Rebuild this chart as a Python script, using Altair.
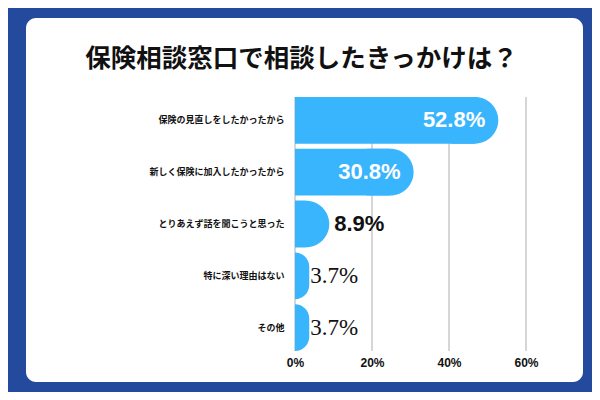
import altair as alt
import pandas as pd

title_text = "保険相談窓口で相談したきっかけは？"
categories = [
    "保険の見直しをしたかったから",
    "新しく保険に加入したかったから",
    "とりあえず話を聞こうと思った",
    "特に深い理由はない",
    "その他",
]
values = [52.8, 30.8, 8.9, 3.7, 3.7]
value_labels = ["52.8%", "30.8%", "8.9%", "3.7%", "3.7%"]
ticks = [0, 20, 40, 60]

BG = "#244a9e"
BAR = "#39b5fd"
JP = "Noto Sans CJK JP"
NUM = "Liberation Sans"

W, H = 231, 254
XMAX = 60
R_PX = 23.5
R_DATA = R_PX * XMAX / W  # end-cap radius in data units

df = pd.DataFrame({"cat": categories, "value": values, "label": value_labels})
tick_df = pd.DataFrame({"tick": ticks})

x_scale = alt.Scale(domain=[0, XMAX], nice=False, zero=True)
y_scale = alt.Scale(paddingInner=0.1, paddingOuter=0)

x_axis = alt.Axis(
    values=ticks, labelExpr="datum.value + '%'", title=None, grid=False,
    domain=False, ticks=False, labelPadding=6, labelFontSize=12,
    labelFont=NUM, labelFontWeight="bold", labelColor="#111111", zindex=1,
    labelFlush=False, labelOverlap=False,
)
y_axis = alt.Axis(
    title=None, domain=False, ticks=False, labelPadding=11,
    labelFontSize=9, labelFont=JP, labelFontWeight="bold",
    labelColor="#111111", labelLimit=300, zindex=1,
)


def X(field):
    return alt.X(field, scale=x_scale, axis=x_axis)


def Y():
    return alt.Y("cat:N", sort=categories, scale=y_scale, axis=y_axis)


card = alt.Chart(pd.DataFrame({"k": [1]})).mark_rect(
    color="white", cornerRadius=10
).encode(
    x=alt.value(-269), x2=alt.value(288), y=alt.value(-79), y2=alt.value(285)
)

grid = alt.Chart(tick_df).mark_rule(color="#c8c8c8", strokeWidth=1.5).encode(
    x=X("tick:Q")
)

# square body of each bar
bar_body = alt.Chart(df).transform_calculate(
    body_end=f"max(0, datum.value - {R_DATA})"
).mark_bar(color=BAR).encode(x=X("body_end:Q"), y=Y())

# rounded end cap (clipped at the zero line for short bars)
bar_cap = alt.Chart(df).transform_calculate(
    cap_start=f"datum.value - 2 * min({R_DATA}, datum.value)"
).mark_bar(
    color=BAR, clip=True,
    cornerRadiusTopRight=alt.ExprRef(f"min({R_PX}, scale('x', datum.value))"),
    cornerRadiusBottomRight=alt.ExprRef(f"min({R_PX}, scale('x', datum.value))"),
).encode(x=X("cap_start:Q"), x2="value:Q", y=Y())

inside = alt.Chart(df).transform_filter("datum.value > 20").mark_text(
    align="right", baseline="middle", dx=-13, fontSize=22, font=NUM,
    fontWeight="bold", color="white"
).encode(x=X("value:Q"), y=Y(), text="label:N")

outside_bold = alt.Chart(df).transform_filter("datum.value <= 20 && datum.value > 5").mark_text(
    align="left", baseline="middle", dx=5, fontSize=22, font=NUM,
    fontWeight="bold", color="#111111"
).encode(x=X("value:Q"), y=Y(), text="label:N")

outside_reg = alt.Chart(df).transform_filter("datum.value <= 5").mark_text(
    align="left", baseline="middle", dx=1, fontSize=23, font="Liberation Serif",
    fontWeight="normal", color="#111111"
).encode(x=X("value:Q"), y=Y(), text="label:N")

title = alt.Chart(pd.DataFrame({"t": [title_text]})).mark_text(
    align="center", baseline="middle", fontSize=25.5, font=JP, fontWeight="bold",
    color="#111111"
).encode(x=alt.value(6.5), y=alt.value(-38), text="t:N")

chart = alt.layer(card, grid, bar_body, bar_cap, inside, outside_bold, outside_reg, title).properties(
    width=W,
    height=H,
    background=BG,
    padding={"left": 287, "top": 89, "right": 66, "bottom": 41},
    autosize=alt.AutoSizeParams(type="none"),
).configure_view(stroke=None)

chart.save("out.html", embed_options={"renderer": "svg", "actions": False})
